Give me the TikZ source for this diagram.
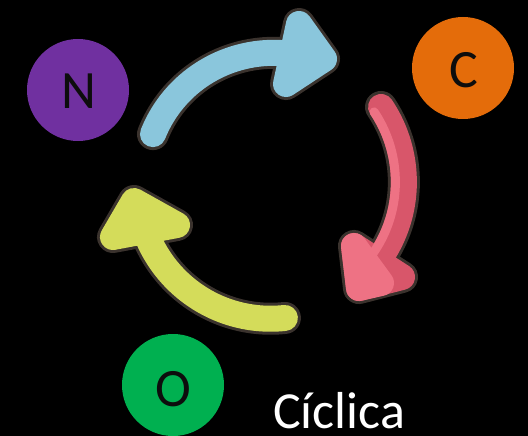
\documentclass[tikz,border=0pt]{standalone}
\usepackage{fontspec}
\setmainfont{Carlito}
\definecolor{outl}{HTML}{3A322D}
\definecolor{blueA}{HTML}{8AC6DC}
\definecolor{yelA}{HTML}{D4DC5A}
\definecolor{redD}{HTML}{D8566A}
\definecolor{redL}{HTML}{EE7284}
\definecolor{purp}{HTML}{7030A0}
\definecolor{oran}{HTML}{E46C0A}
\definecolor{gree}{HTML}{00B050}
\definecolor{letterc}{HTML}{0D0D0D}
\newcommand{\arcpath}[4]{plot[domain=#1:#2, samples=40, smooth] ({270+(#3+(#4-#3)*(\x-#1)/(#2-#1))*cos(\x)},{185+(#3+(#4-#3)*(\x-#1)/(#2-#1))*sin(\x)})}
\begin{document}
\begin{tikzpicture}[x=1pt,y=-1pt,
  dot/.style={circle, minimum size=102pt, inner sep=0pt, draw=none},
  letter/.style={inner sep=0pt, font=\fontsize{54}{60}\selectfont, text=letterc},
  rim/.style={draw=outl, line width=32pt, line cap=round, line join=round},
  rimhead/.style={draw=outl, fill=outl, line width=32pt, line join=round},
  body/.style={line width=26pt, line cap=round, line join=round}]
\fill[black] (0,0) rectangle (528,436);
\useasboundingbox (0,0) rectangle (528,436);
% circles
\node[dot, fill=purp] (N) at (78,90) {};
\node[letter] (Nt) at (79,91) {N};
\node[dot, fill=oran] (C) at (463,68) {};
\node[letter] (Ct) at (464,70) {C};
\node[dot, fill=gree] (O) at (173,385) {};
\node[letter] (Ot) at (173,389) {O};
% blue arrow
\draw[rim] \arcpath{203.5}{279.5}{127.6}{132.8};
\filldraw[rimhead] (299,24)--(324,59)--(286,84)--cycle;
\draw[body, blueA] \arcpath{203.5}{279.5}{127.6}{132.8};
\filldraw[body, blueA] (299,24)--(324,59)--(286,84)--cycle;
% red arrow
\draw[rim] \arcpath{324.9}{395.3}{135.7}{132};
\filldraw[rimhead] (354,246)--(359,288)--(402,277)--cycle;
\draw[body, redD] \arcpath{324.9}{395.3}{135.7}{132};
\filldraw[body, redD] (354,246)--(359,288)--(402,277)--cycle;
\draw[line width=9pt, line cap=round, redL] \arcpath{324.9}{395.3}{127.2}{123.5};
\filldraw[body, redL] (354,246)--(359,288)--(381,283)--cycle;
% yellow arrow
\draw[rim] \arcpath{83.6}{159.8}{133.8}{133};
\filldraw[rimhead] (177,225)--(134,201)--(113,237)--cycle;
\draw[body, yelA] \arcpath{83.6}{159.8}{133.8}{133};
\filldraw[body, yelA] (177,225)--(134,201)--(113,237)--cycle;
% caption
\node[font=\fontsize{52}{60}\selectfont, text=white, anchor=base west, inner sep=0pt] (cap) at (273,428) {Cíclica};
\end{tikzpicture}
\end{document}
